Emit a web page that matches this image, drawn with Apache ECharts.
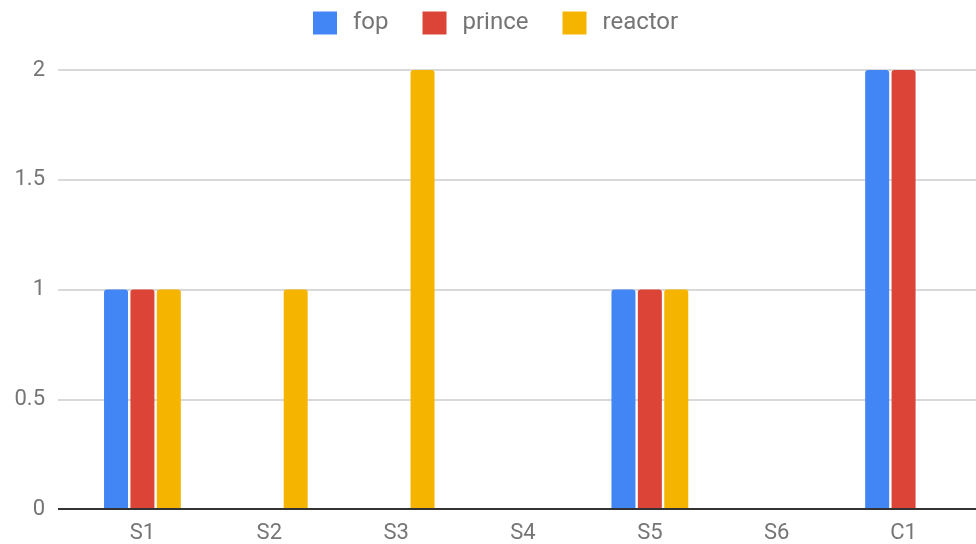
<!DOCTYPE html>
<html>
<head>
<meta charset="utf-8">
<script src="https://cdn.jsdelivr.net/npm/echarts@6/dist/echarts.min.js"></script>
<style>
  html, body { margin: 0; padding: 0; background: #fff; }
  #chart { width: 976px; height: 544px; }
</style>
</head>
<body>
<div id="chart"></div>
<script>
const categories = ['S1', 'S2', 'S3', 'S4', 'S5', 'S6', 'C1'];
const fop = [1, 0, 0, 0, 1, 0, 2];
const prince = [1, 0, 0, 0, 1, 0, 2];
const reactor = [1, 1, 2, 0, 1, 0, 0];
const yTicks = { min: 0, max: 2, interval: 0.5 };

const labelColor = '#757575';
const font = 'Roboto, "Noto Sans", sans-serif';

const chart = echarts.init(document.getElementById('chart'));

function barSeries(name, data, color) {
  return {
    name: name,
    type: 'bar',
    xAxisIndex: 1,
    yAxisIndex: 1,
    data: data,
    barWidth: 24,
    barGap: '10%',
    itemStyle: { color: color, borderRadius: [3, 3, 0, 0] }
  };
}

chart.setOption({
  animation: false,
  color: ['#4285F4', '#DB4437', '#F4B400'],
  legend: {
    top: 11,
    left: 313,
    padding: 0,
    itemWidth: 24,
    itemHeight: 23,
    itemGap: 34,
    icon: 'rect',
    textStyle: { color: labelColor, fontSize: 24, fontFamily: font, padding: [0, 0, 0, 11] },
    data: ['fop', 'prince', 'reactor']
  },
  grid: [
    // wide grid: carries the value gridlines and the baseline
    { left: 58, right: 0, top: 70, bottom: 35 },
    // inner grid: carries the category bands and bars
    { left: 79, right: 9, top: 70, bottom: 35 }
  ],
  xAxis: [
    { gridIndex: 0, type: 'value', min: 0, max: 1, show: false },
    {
      gridIndex: 1,
      type: 'category',
      data: categories,
      axisLine: { show: false },
      axisTick: { show: false },
      axisLabel: { color: labelColor, fontSize: 22, fontFamily: font, margin: 13 }
    }
  ],
  yAxis: [
    {
      gridIndex: 0,
      type: 'value',
      min: yTicks.min,
      max: yTicks.max,
      interval: yTicks.interval,
      axisLine: { show: false },
      axisTick: { show: false },
      axisLabel: { color: labelColor, fontSize: 22, fontFamily: font, margin: 13 },
      splitLine: { lineStyle: { color: '#cccccc', width: 1.5 } }
    },
    {
      gridIndex: 1,
      type: 'value',
      min: yTicks.min,
      max: yTicks.max,
      interval: yTicks.interval,
      show: false
    }
  ],
  series: [
    barSeries('fop', fop, '#4285F4'),
    barSeries('prince', prince, '#DB4437'),
    barSeries('reactor', reactor, '#F4B400'),
    {
      // baseline at zero across the full plot width
      type: 'line',
      xAxisIndex: 0,
      yAxisIndex: 0,
      data: [[0, 0], [1, 0]],
      symbol: 'none',
      silent: true,
      lineStyle: { color: '#333333', width: 2 },
      z: 5
    }
  ]
});
</script>
</body>
</html>
